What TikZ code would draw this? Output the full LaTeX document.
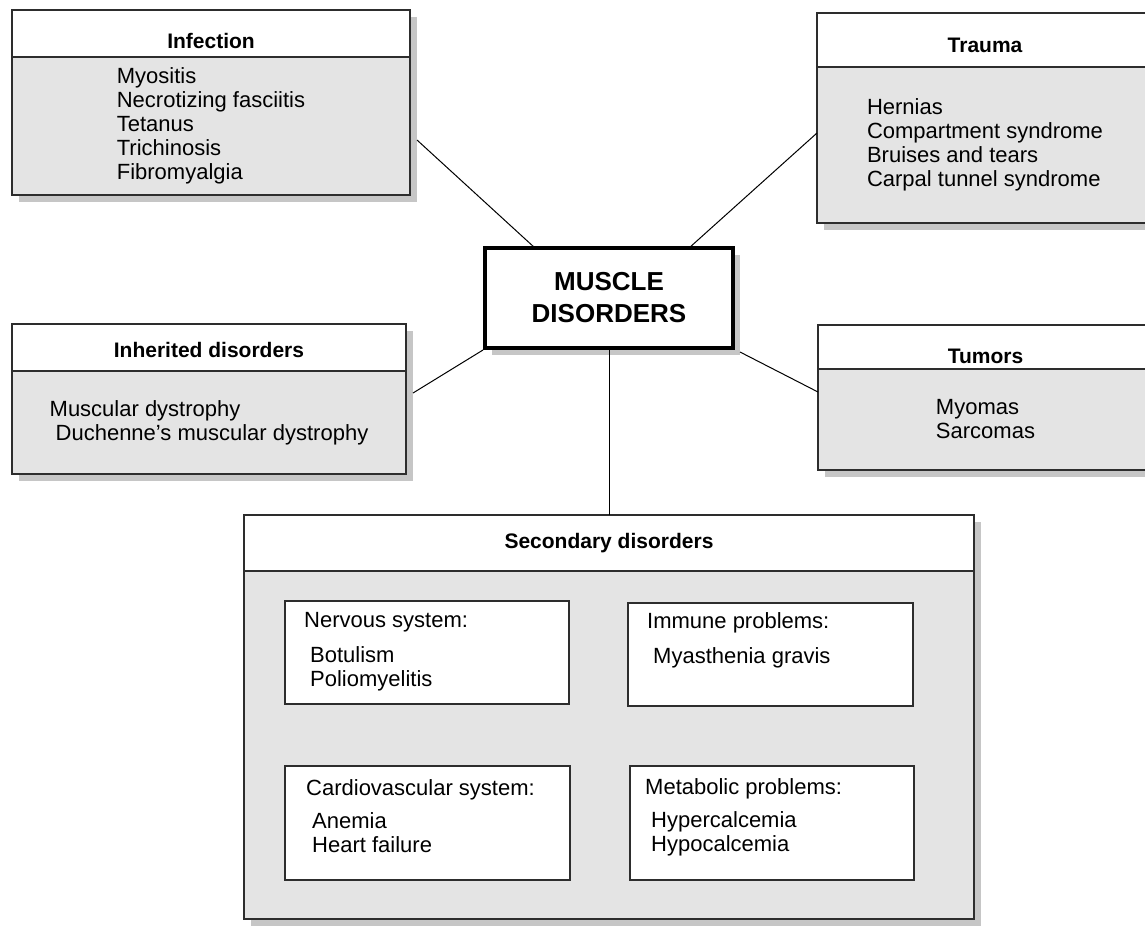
\documentclass[tikz,border=0pt]{standalone}
\usepackage{fontspec}
\setmainfont{Liberation Sans}
\usetikzlibrary{positioning, shadows, calc}
\definecolor{boxgray}{RGB}{228,228,228}
\definecolor{shadowgray}{RGB}{198,198,198}
\definecolor{linegray}{RGB}{45,45,45}

\begin{document}
\begin{tikzpicture}[
    x=1pt, y=-1pt,
    boxshadow/.style={drop shadow={shadow xshift=7pt, shadow yshift=-7pt, fill=shadowgray, opacity=1}},
    head/.style={rectangle, draw=linegray, line width=1.3pt, fill=white, inner sep=0pt, outer sep=0pt,
                 align=center, font=\fontsize{21}{24}\selectfont\bfseries, boxshadow},
    body/.style={rectangle, draw=linegray, line width=1.3pt, fill=boxgray, inner sep=0pt, outer sep=0pt,
                 align=left, font=\fontsize{22}{24}\selectfont, boxshadow},
    core/.style={rectangle, draw=black, line width=4pt, fill=white, minimum width=248pt, minimum height=100pt,
                 align=center, font=\fontsize{26}{32}\selectfont\bfseries, boxshadow},
    sub/.style={rectangle, draw=linegray, line width=1.3pt, fill=white, inner sep=0pt, outer sep=0pt},
    subtext/.style={inner sep=0pt, align=left, font=\fontsize{22}{24}\selectfont},
    link/.style={draw=black, line width=1pt}
]
\useasboundingbox (0,0) rectangle (1145,926);
\clip (0,0) rectangle (1145,926);

% Infection (top left)
\node[head, minimum width=398pt, minimum height=47pt, text height=31pt] (infhead) at (211, 33.5) {Infection};
\node[body, minimum width=398pt, minimum height=138pt, below=0pt of infhead] (infbody)
      {Myositis\\Necrotizing fasciitis\\Tetanus\\Trichinosis\\Fibromyalgia};

% Trauma (top right)
\node[head, minimum width=336pt, minimum height=54pt, text height=25pt] (trahead) at (985, 40) {Trauma};
\node[body, minimum width=336pt, minimum height=156pt, below=0pt of trahead] (trabody)
      {Hernias\\Compartment syndrome\\Bruises and tears\\Carpal tunnel syndrome};

% Central node
\node[core] (muscle) at (609, 298) {MUSCLE\\DISORDERS};

% Inherited disorders (left)
\node[head, minimum width=394pt, minimum height=47pt, text height=20pt] (inhhead) at (209, 347.5) {Inherited disorders};
\node[body, minimum width=394pt, minimum height=103pt, below=0pt of inhhead] (inhbody)
      {Muscular dystrophy\\\hspace*{6pt}Duchenne's muscular dystrophy};

% Tumors (right)
\node[head, minimum width=335pt, minimum height=44pt, text height=33pt] (tumhead) at (985.5, 347) {Tumors};
\node[body, minimum width=335pt, minimum height=101pt, below=0pt of tumhead] (tumbody)
      {Myomas\\Sarcomas};

% Secondary disorders (bottom)
\node[head, minimum width=730pt, minimum height=56pt] (sechead) at (609, 543) {Secondary disorders};
\node[body, minimum width=730pt, minimum height=348pt, below=0pt of sechead] (secbody) {};

% Secondary groups
\node[sub, minimum width=284pt, minimum height=103pt] (nerv) at (427, 652.5) {};
\node[sub, minimum width=285pt, minimum height=103pt] (immune) at (770.5, 654.5) {};
\node[sub, minimum width=285pt, minimum height=114pt] (cardio) at (427.5, 823) {};
\node[sub, minimum width=284pt, minimum height=114pt] (metab) at (772, 823) {};

\node[subtext, below right=11pt and 19pt of nerv.north west] (nervtext)
      {Nervous system:\\[11pt]\hspace*{6pt}Botulism\\\hspace*{6pt}Poliomyelitis};
\node[subtext, below right=9pt and 19pt of immune.north west] (immunetext)
      {Immune problems:\\[11pt]\hspace*{6pt}Myasthenia gravis};
\node[subtext, below right=13pt and 21pt of cardio.north west] (cardiotext)
      {Cardiovascular system:\\[9pt]\hspace*{6pt}Anemia\\\hspace*{6pt}Heart failure};
\node[subtext, below right=12pt and 15pt of metab.north west] (metabtext)
      {Metabolic problems:\\[9pt]\hspace*{6pt}Hypercalcemia\\\hspace*{6pt}Hypocalcemia};

% Links to the central node
\draw[link] ($(infbody.east)+(7,14)$) -- ($(muscle.north west)+(52,2)$);
\draw[link] ($(trabody.west)+(0,-12)$) -- ($(muscle.north east)+(-46,2)$);
\draw[link] ($(inhbody.north east)+(7,22)$) -- (muscle.south west);
\draw[link] ($(muscle.south east)+(5,2)$) -- ($(tumbody.north west)+(0,23)$);
\draw[link] (muscle.south) -- (sechead.north);

\end{tikzpicture}
\end{document}
